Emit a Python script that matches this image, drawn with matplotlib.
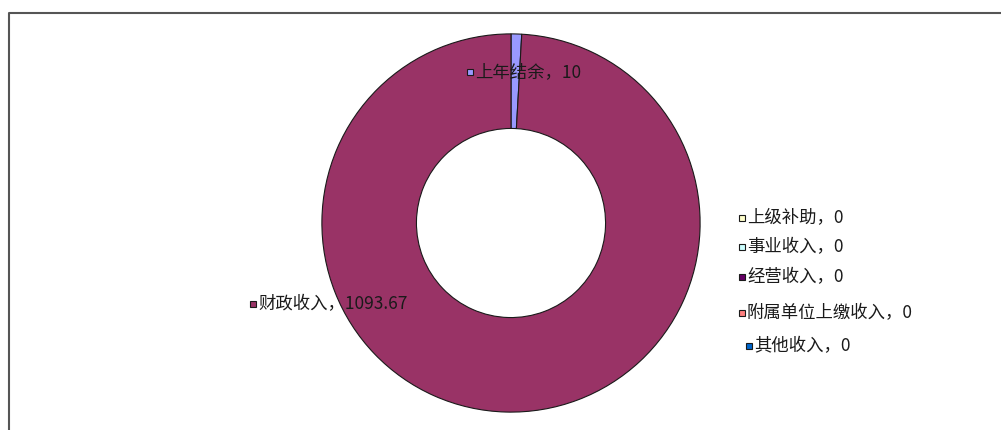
import matplotlib
matplotlib.use("Agg")
import matplotlib.pyplot as plt
from matplotlib.lines import Line2D

plt.rcParams['font.family'] = ['Noto Sans CJK SC', 'DejaVu Sans']

categories = ["上年结余", "财政收入", "上级补助", "事业收入", "经营收入", "附属单位上缴收入", "其他收入"]
values = [10, 1093.67, 0, 0, 0, 0, 0]
value_labels = ["10", "1093.67", "0", "0", "0", "0", "0"]
colors = ["#9999FF", "#993366", "#FFFFCC", "#CCFFFF", "#660066", "#FF8080", "#0066CC"]

W, H = 1001, 430
fig = plt.figure(figsize=(W / 100, H / 100), dpi=100)

# pie axes: centre (511, 223) px, radius 191 px
cx, cy, r = 511, 223, 191
ax = fig.add_axes([(cx - r) / W, (H - cy - r) / H, 2 * r / W, 2 * r / H])
nz = [i for i, v in enumerate(values) if v > 0]
ax.pie([values[i] for i in nz], colors=[colors[i] for i in nz], startangle=90,
       counterclock=False, radius=1.0,
       wedgeprops=dict(width=0.5, edgecolor="#1a1a1a", linewidth=0.8))
ax.set_xlim(-1.01, 1.01)
ax.set_ylim(-1.01, 1.01)
ax.set_aspect("equal")
ax.axis("off")

# label positions (marker centre x, y in pixels from top)
label_pos = [(470, 72), (253, 304), (742, 218), (742, 247), (742, 277), (742, 313), (749, 346)]

for i, (mx, my) in enumerate(label_pos):
    fx, fy = mx / W, (H - my) / H
    fig.add_artist(Line2D([fx], [fy], marker="s", markersize=4.5, color=colors[i],
                          markeredgecolor="#1a1a1a", markeredgewidth=0.8,
                          linestyle="none", transform=fig.transFigure))
    fig.text((mx + 5) / W, fy, f"{categories[i]}，{value_labels[i]}", fontsize=12.5,
             color="#1a1a1a", ha="left", va="center")

# chart border (top and left visible)
fig.add_artist(Line2D([9 / W, 9 / W, 1.0], [0.0, (H - 12.5) / H, (H - 12.5) / H],
                      color="#555555", linewidth=1.5, transform=fig.transFigure))

fig.savefig("out.png", dpi=100, facecolor="white")
